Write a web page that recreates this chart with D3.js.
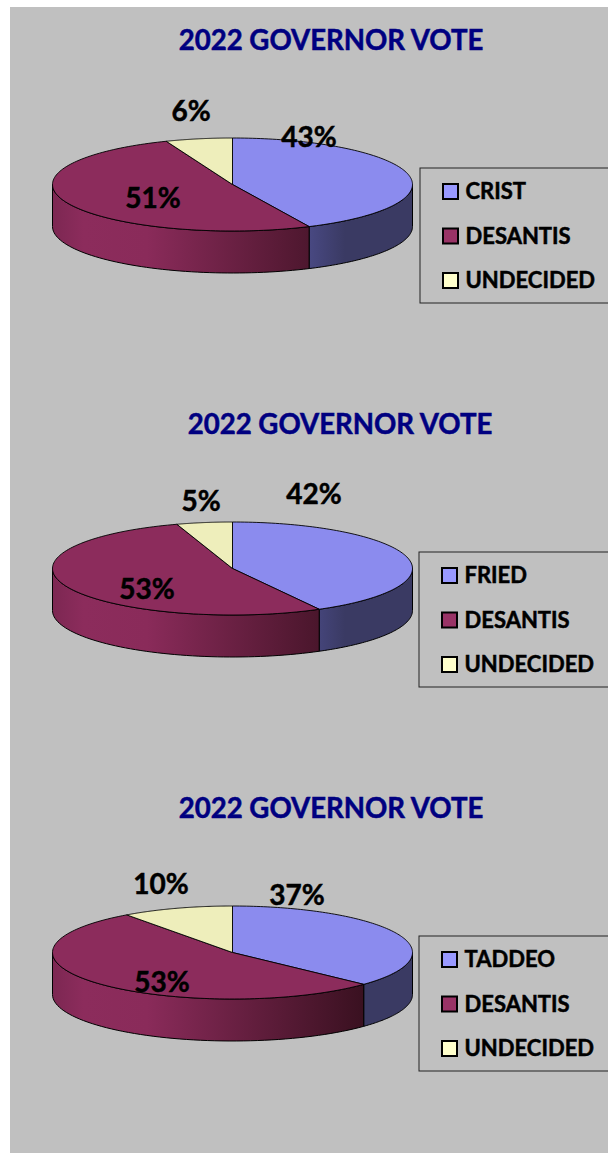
<!DOCTYPE html>
<html>
<head>
<meta charset="utf-8">
<script src="https://cdnjs.cloudflare.com/ajax/libs/d3/7.8.5/d3.min.js"></script>
<style>
  html, body { margin: 0; padding: 0; background: #fff; }
  svg { display: block; }
  text { font-family: Lato, "Open Sans", sans-serif; font-weight: 700; }
</style>
</head>
<body>
<svg width="608" height="1153"></svg>
<script>
const categories = [
  ["CRIST", "DESANTIS", "UNDECIDED"],
  ["FRIED", "DESANTIS", "UNDECIDED"],
  ["TADDEO", "DESANTIS", "UNDECIDED"]
];
const values = [
  [43, 51, 6],
  [42, 53, 5],
  [37, 53, 10]
];
const chartTitle = "2022 GOVERNOR VOTE";

const topColors = ["#8b8bee", "#8c2c5c", "#eeeebb"];
const swatchColors = ["#9999ff", "#993366", "#ffffcc"];

// layout of each panel
const panels = [
  { top: 0, titleX: 331, legendX: 420, labels: [[309, 137], [153, 198], [191, 111]] },
  { top: 384, titleX: 340, legendX: 419, labels: [[314, 494], [147, 589], [201, 501]] },
  { top: 768, titleX: 331, legendX: 419, labels: [[297, 895], [162, 982], [161, 884]] }
];

const cx = 232.5, rx = 180, ry = 46.5, depth = 42, cy0 = 184.5;

const svg = d3.select("svg");
const defs = svg.append("defs");

// side wall shading runs across the page, so a slice ending further right gets darker
const rimGradients = [
  { id: "rim0", x1: 300, x2: 345, stops: [[0, "#4c4c8a"], [1, "#3a3a63"]] },
  { id: "rim1", x1: 52, x2: 368, stops: [[0, "#7c2752"], [0.1, "#8c2c5c"], [0.3, "#8a2b5a"], [1, "#38101f"]] }
];
rimGradients.forEach(r => {
  const grad = defs.append("linearGradient")
    .attr("id", r.id)
    .attr("gradientUnits", "userSpaceOnUse")
    .attr("x1", r.x1).attr("x2", r.x2)
    .attr("y1", 0).attr("y2", 0);
  r.stops.forEach(s => grad.append("stop").attr("offset", s[0]).attr("stop-color", s[1]));
});

svg.append("rect")
  .attr("x", 10).attr("y", 7)
  .attr("width", 598).attr("height", 1146)
  .attr("fill", "#c0c0c0");

const pie = d3.pie().sort(null).value(d => d);
const pt = (a, cy) => [cx + rx * Math.sin(a), cy - ry * Math.cos(a)];
const outline = d3.line();

panels.forEach((p, i) => {
  const g = svg.append("g");
  const cy = cy0 + p.top;
  const arcs = pie(values[i]);

  g.append("text")
    .attr("x", p.titleX).attr("y", p.top + 40)
    .attr("dy", "0.35em")
    .attr("text-anchor", "middle")
    .attr("font-size", 27.6)
    .attr("fill", "#000080")
    .attr("stroke", "#000080")
    .attr("stroke-width", 0.5)
    .text(chartTitle);

  // side wall, only the part of each slice facing the viewer
  arcs.forEach((d, j) => {
    const a0 = Math.max(d.startAngle, Math.PI / 2);
    const a1 = Math.min(d.endAngle, Math.PI * 1.5);
    if (a1 <= a0) return;
    const angles = d3.range(0, 61).map(k => a0 + (a1 - a0) * k / 60);
    const upper = angles.map(a => pt(a, cy));
    const lower = angles.map(a => pt(a, cy + depth)).reverse();
    g.append("path")
      .attr("d", outline(upper.concat(lower)) + "Z")
      .attr("fill", "url(#rim" + j + ")")
      .attr("stroke", "#000")
      .attr("stroke-width", 1);
  });

  // top face
  arcs.forEach((d, j) => {
    const angles = d3.range(0, 121).map(k => d.startAngle + (d.endAngle - d.startAngle) * k / 120);
    const pts = [[cx, cy]].concat(angles.map(a => pt(a, cy)));
    g.append("path")
      .attr("d", outline(pts) + "Z")
      .attr("fill", topColors[j])
      .attr("stroke", "#000")
      .attr("stroke-width", 0.9);
  });

  // percent labels
  values[i].forEach((v, j) => {
    g.append("text")
      .attr("x", p.labels[j][0]).attr("y", p.labels[j][1])
      .attr("dy", "0.35em")
      .attr("text-anchor", "middle")
      .attr("font-size", 28)
      .attr("fill", "#000")
      .attr("stroke", "#000")
      .attr("stroke-width", 0.5)
      .text(v + "%");
  });

  // legend
  const legendTop = 168 + p.top;
  g.append("rect")
    .attr("x", p.legendX).attr("y", legendTop)
    .attr("width", 608 - p.legendX + 4).attr("height", 135)
    .attr("fill", "none")
    .attr("stroke", "#222")
    .attr("stroke-width", 1);
  categories[i].forEach((c, j) => {
    const rowY = legendTop + 23.5 + j * 44.5;
    g.append("rect")
      .attr("x", p.legendX + 23).attr("y", rowY - 7.5)
      .attr("width", 15).attr("height", 15)
      .attr("fill", swatchColors[j])
      .attr("stroke", "#000")
      .attr("stroke-width", 2);
    g.append("text")
      .attr("x", p.legendX + 45.5).attr("y", rowY)
      .attr("dy", "0.35em")
      .attr("font-size", 22)
      .attr("fill", "#000")
      .attr("stroke", "#000")
      .attr("stroke-width", 0.5)
      .text(c);
  });
});
</script>
</body>
</html>
